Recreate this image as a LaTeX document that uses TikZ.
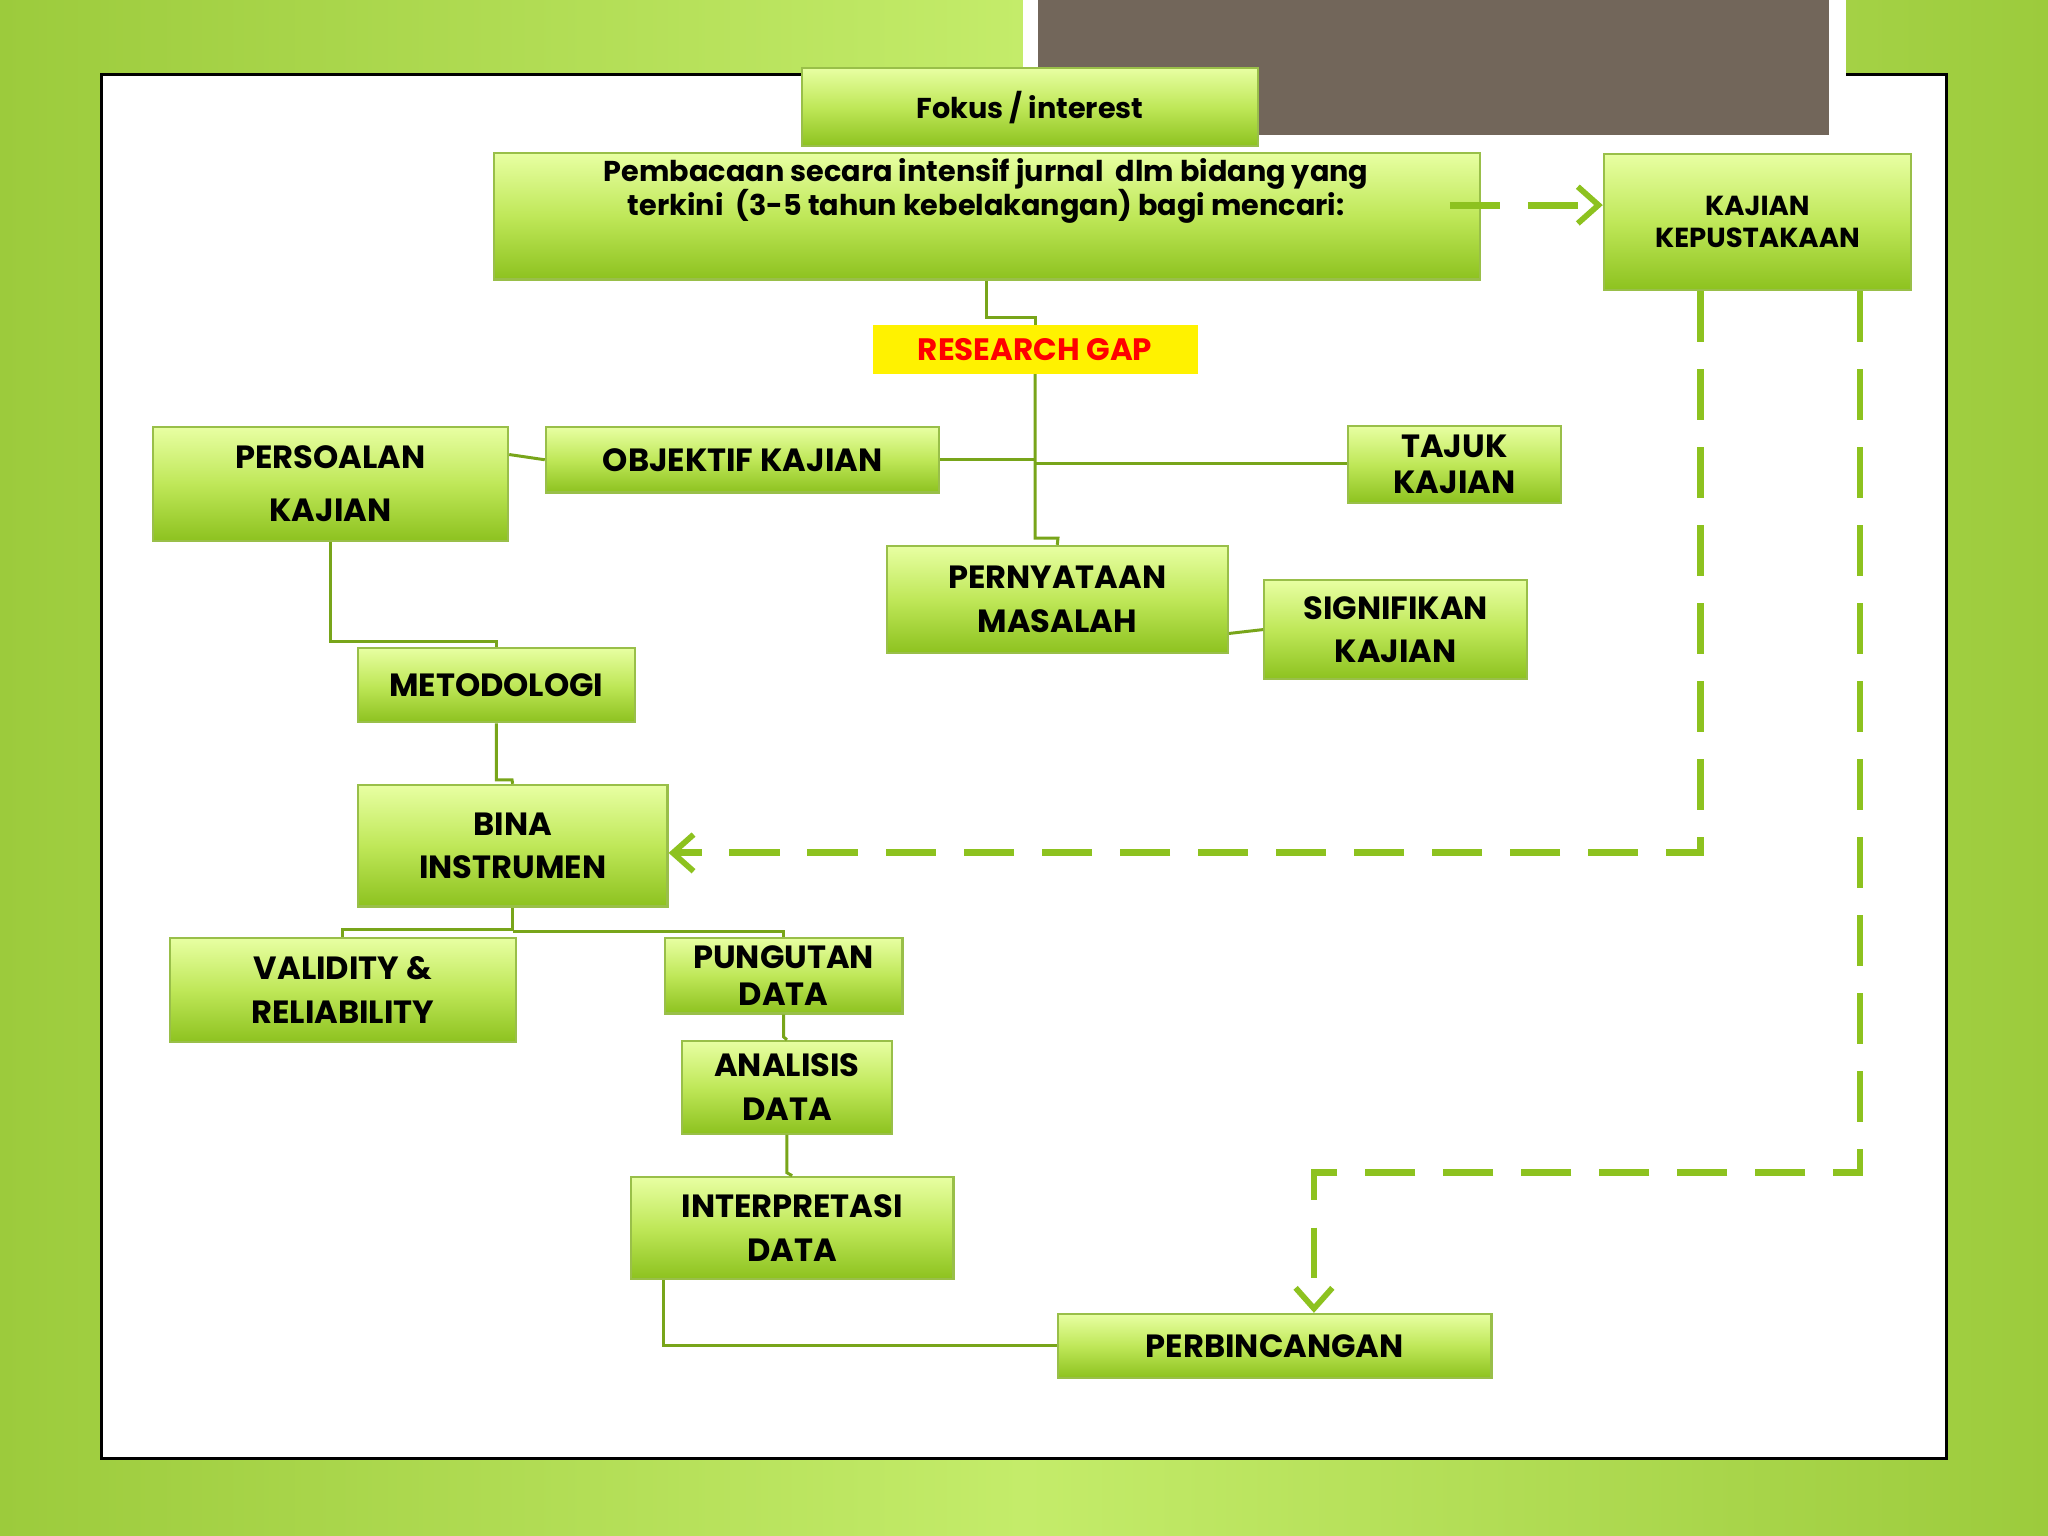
\documentclass[tikz,border=0pt]{standalone}
\usepackage{fontspec}
\setmainfont{Poppins}
\usetikzlibrary{fit,arrows.meta}
\definecolor{lg}{HTML}{8DC21F}
\definecolor{bgA}{HTML}{9CCB3C}
\definecolor{bgB}{HTML}{C4EC6A}
\definecolor{brn}{HTML}{72665A}
\begin{document}
\begin{tikzpicture}[x=0.02cm,y=-0.02cm,
 box/.style={inner sep=0,draw=lg!90!black!80,line width=1pt,top color=lime!25!white!85!lime,bottom color=lg,middle color=lime!45!lg!70!white},
 tx/.style={align=center,font=\bfseries\fontsize{14}{19}\selectfont,inner sep=0},
 con/.style={draw=lg!85!black,line width=1.3pt},
 dsh/.style={draw=lg,line width=3pt,dash pattern=on 22pt off 12pt},
 arr/.style={-{Straight Barb[length=9pt,width=16pt,line width=2.5pt]}}]
\useasboundingbox (0,0) rectangle (1568,1176);
\shade[left color=bgA,right color=bgA,middle color=bgB] (0,0) rectangle (1568,1176);
\draw[black,line width=1.3pt,fill=white] (78,57) rectangle (1490,1117);
\fill[white] (783,0) rectangle (1413,112);
\fill[brn] (795,0) rectangle (1400,103);
\node[box,fit={(614,52)(963,112)}] (fok) {};
\node[tx,font=\bfseries\fontsize{12.5}{15}\selectfont] (fokt) at (fok.center) {Fokus / interest};
\node[box,fit={(378,117)(1133,214)}] (pem) {};
\node[tx,font=\bfseries\fontsize{12.5}{15}\selectfont] (pemt) at (755,146) {Pembacaan secara intensif jurnal\ \ dlm bidang yang\\terkini\ \ (3-5 tahun kebelakangan) bagi mencari:};
\node[box,fit={(1228,118)(1463,222)}] (kep) {};
\node[tx,font=\bfseries\fontsize{12}{14}\selectfont] (kept) at (kep.center) {KAJIAN\\KEPUSTAKAAN};
\node[fill=yellow,inner sep=0,fit={(668,249)(917,286)}] (gap) {};
\node[tx,text=red,font=\bfseries\fontsize{13.5}{15}\selectfont] (gapt) at (gap.center) {RESEARCH GAP};
\node[box,fit={(117,327)(389,414)}] (per) {};
\node[tx,font=\bfseries\fontsize{14}{23}\selectfont] (pert) at (per.center) {PERSOALAN\\KAJIAN};
\node[box,fit={(418,327)(719,377)}] (obj) {};
\node[tx] (objt) at (obj.center) {OBJEKTIF KAJIAN};
\node[box,fit={(1032,326)(1195,385)}] (taj) {};
\node[tx,font=\bfseries\fontsize{14}{16}\selectfont] (tajt) at (taj.center) {TAJUK\\KAJIAN};
\node[box,fit={(679,418)(940,500)}] (pny) {};
\node[tx] (pnyt) at (pny.center) {PERNYATAAN\\MASALAH};
\node[box,fit={(968,444)(1169,520)}] (sig) {};
\node[tx] (sigt) at (sig.center) {SIGNIFIKAN\\KAJIAN};
\node[box,fit={(274,496)(486,553)}] (met) {};
\node[tx] (mett) at (met.center) {METODOLOGI};
\node[box,fit={(274,601)(511,694)}] (bin) {};
\node[tx] (bint) at (bin.center) {BINA\\INSTRUMEN};
\node[box,fit={(130,718)(395,798)}] (val) {};
\node[tx] (valt) at (val.center) {VALIDITY \&\\RELIABILITY};
\node[box,fit={(509,718)(691,776)}] (pun) {};
\node[tx,font=\bfseries\fontsize{14}{16}\selectfont] (punt) at (pun.center) {PUNGUTAN\\DATA};
\node[box,fit={(522,797)(683,868)}] (ana) {};
\node[tx] (anat) at (ana.center) {ANALISIS\\DATA};
\node[box,fit={(483,901)(730,979)}] (int) {};
\node[tx] (intt) at (int.center) {INTERPRETASI\\DATA};
\node[box,fit={(810,1006)(1142,1055)}] (pbc) {};
\node[tx] (pbct) at (pbc.center) {PERBINCANGAN};
% connectors
\draw[con] (pem.south) -- ++(0,28) -| (gap.north);
\draw[con] (gap.south) |- (810,412) -- (pny.north);
\draw[con] (obj.east) -- (793,352);
\draw[con] (793,355) -- (taj.west|-793,355);
\draw[con] (per.east|-0,348) -- (obj.west);
\draw[con] (pny.east|-0,485) -- (sig.west|-0,482);
\draw[con] (per.south) |- (380,491) -- (met.north);
\draw[con] (met.south) |- (392,597) -- (bin.north);
\draw[con] (bin.south) |- (262,712) -- (val.north-|262,0);
\draw[con] (bin.south) ++(0,18) -| (pun.north);
\draw[con] (pun.south) -- ++(0,17) -- (ana.north);
\draw[con] (ana.south) -- ++(0,29) -- (int.north);
\draw[con] (int.south-|508,0) |- (pbc.west);
\draw[dsh,arr] (1110,157) -- (kep.west|-0,157);
\draw[dsh,arr] (kep.south-|1302,0) |- (bin.east|-0,653);
\draw[dsh,arr] (kep.south-|1424,0) |- (1006,898) -- (pbc.north-|1006,0);
\end{tikzpicture}
\end{document}
